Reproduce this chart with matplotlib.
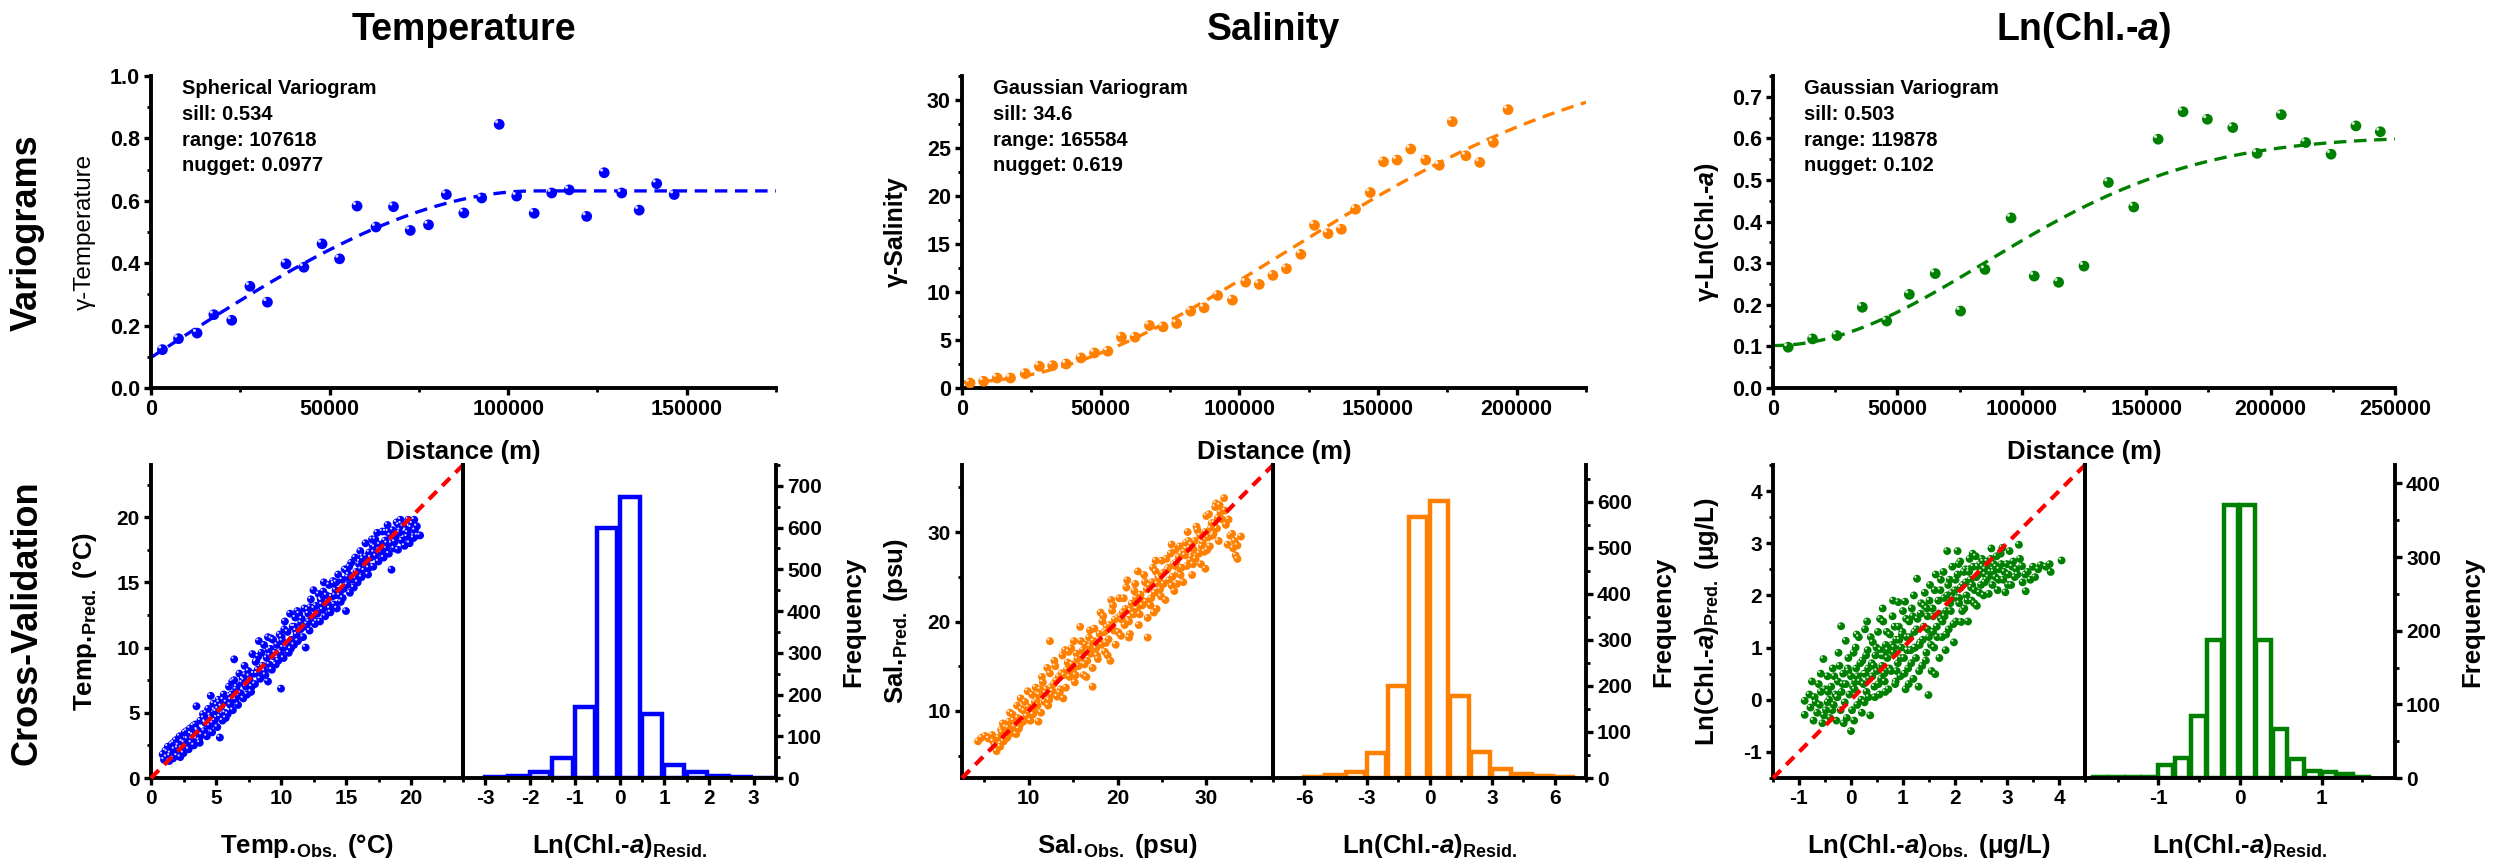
import numpy as np
import matplotlib
matplotlib.use("Agg")
import matplotlib.pyplot as plt
from matplotlib import font_manager
from matplotlib.transforms import ScaledTranslation
from matplotlib.ticker import MultipleLocator, FuncFormatter

# ---------------- fonts ----------------
_names = {f.name for f in font_manager.fontManager.ttflist}
BASE = "Liberation Sans" if "Liberation Sans" in _names else "DejaVu Sans"
NARROW = "Liberation Sans Narrow" if "Liberation Sans Narrow" in _names else BASE
plt.rcParams["font.family"] = BASE
plt.rcParams["font.weight"] = "bold"
plt.rcParams["axes.labelweight"] = "bold"
plt.rcParams["mathtext.fontset"] = "custom"
plt.rcParams["mathtext.rm"] = BASE + ":bold"
plt.rcParams["mathtext.it"] = BASE + ":italic:bold"
plt.rcParams["mathtext.bf"] = BASE + ":bold"
plt.rcParams["lines.scale_dashes"] = False

# ---------------- data: variograms ----------------
temp_lag = [3200, 7700, 12900, 17600, 22600, 27700, 32600, 37800, 42800, 47900,
            52800, 57700, 63000, 67900, 72600, 77700, 82700, 87600, 92600, 97500,
            102400, 107300, 112200, 117100, 122000, 126900, 131800, 136700, 141600, 146500]
temp_gamma = [0.123, 0.158, 0.176, 0.235, 0.217, 0.326, 0.275, 0.398, 0.387, 0.462,
              0.414, 0.583, 0.516, 0.581, 0.505, 0.523, 0.620, 0.561, 0.609, 0.845,
              0.615, 0.560, 0.625, 0.635, 0.550, 0.690, 0.625, 0.570, 0.655, 0.620]
temp_model = dict(kind="Spherical", sill=0.534, rng=107618, nugget=0.0977)

sal_lag = [2900, 7800, 12700, 17500, 22800, 27900, 32700, 37600, 42900, 47800,
           52600, 57500, 62400, 67600, 72500, 77400, 82500, 87300, 92200, 97500,
           102300, 107200, 112100, 117000, 122200, 127100, 132000, 136800, 141900, 147200,
           152000, 156900, 161800, 167200, 172100, 176800, 181700, 186700, 191600, 196900]
sal_gamma = [0.52, 0.70, 1.04, 1.04, 1.50, 2.26, 2.33, 2.50, 3.13, 3.65,
             3.83, 5.29, 5.29, 6.51, 6.37, 6.72, 8.00, 8.35, 9.64, 9.15,
             11.03, 10.79, 11.73, 12.43, 13.92, 16.95, 16.08, 16.53, 18.62, 20.36,
             23.56, 23.74, 24.89, 23.74, 23.20, 27.74, 24.19, 23.50, 25.58, 28.99]
sal_model = dict(kind="Gaussian", sill=34.6, rng=165584, nugget=0.619)

chl_lag = [6100, 15900, 25700, 35900, 45700, 54800, 65200, 75400, 85200, 95700,
           105000, 114800, 125000, 134800, 145000, 154800, 164800, 174600, 184800, 194600,
           204300, 214100, 224300, 234300, 244100]
chl_gamma = [0.098, 0.118, 0.126, 0.194, 0.161, 0.225, 0.275, 0.185, 0.285, 0.409,
             0.269, 0.254, 0.293, 0.494, 0.435, 0.598, 0.664, 0.646, 0.626, 0.564,
             0.657, 0.590, 0.562, 0.630, 0.616]
chl_model = dict(kind="Gaussian", sill=0.503, rng=119878, nugget=0.102)

# ---------------- data: cross-validation scatter ----------------
temp_obs = [0.9, 1.0, 1.1, 1.2, 1.3, 1.4, 1.5, 1.6, 1.7, 1.8, 1.9, 2.0, 2.1, 2.2, 2.3, 2.4, 2.5, 2.6, 2.7, 2.8,
            2.9, 3.0, 3.1, 3.2, 3.3, 3.4, 3.5, 3.5, 3.6, 3.7, 3.8, 3.9, 4.0, 4.1, 4.2, 4.3, 4.4, 4.5, 4.6, 4.6,
            4.7, 4.8, 4.9, 5.0, 5.1, 5.2, 5.3, 5.3, 5.4, 5.5, 5.6, 5.7, 5.8, 5.9, 6.0, 6.1, 6.2, 6.3, 6.4, 6.4,
            6.5, 6.6, 6.7, 6.8, 6.9, 7.0, 7.1, 7.2, 7.3, 7.4, 7.5, 7.6, 7.7, 7.8, 7.9, 8.0, 8.1, 8.2, 8.3, 8.4,
            8.5, 8.6, 8.7, 8.8, 8.9, 9.0, 9.0, 9.1, 9.2, 9.3, 9.4, 9.5, 9.6, 9.7, 9.8, 9.9, 10.0, 10.0, 10.1, 10.2,
            10.3, 10.4, 10.5, 10.6, 10.7, 10.8, 10.9, 11.0, 11.1, 11.2, 11.3, 11.4, 11.5, 11.6, 11.7, 11.8, 11.9, 12.0, 12.1, 12.2,
            12.3, 12.4, 12.5, 12.6, 12.7, 12.8, 12.9, 13.0, 13.1, 13.2, 13.3, 13.4, 13.5, 13.6, 13.7, 13.8, 13.9, 14.0, 14.1, 14.2,
            14.3, 14.4, 14.5, 14.6, 14.7, 14.8, 14.9, 15.0, 15.1, 15.2, 15.3, 15.4, 15.5, 15.6, 15.7, 15.8, 15.9, 16.0, 16.1, 16.2,
            16.3, 16.4, 16.5, 16.6, 16.7, 16.8, 16.9, 17.0, 17.1, 17.2, 17.3, 17.4, 17.5, 17.6, 17.7, 17.8, 17.9, 18.0, 18.1, 18.2,
            18.3, 18.4, 18.5, 18.5, 18.6, 18.7, 18.8, 18.9, 19.0, 19.1, 19.2, 19.3, 19.4, 19.5, 19.6, 19.7, 19.8, 19.9, 20.0, 20.1,
            20.2, 20.3, 20.5, 20.7,
            2.05, 3.05, 4.05, 5.05, 6.05, 7.05, 8.05, 9.05, 10.05, 11.05, 12.05, 13.05, 14.05, 15.05, 16.05, 17.05, 18.05, 19.05,
            2.55, 3.55, 4.55, 5.55, 6.55, 7.55, 8.55, 9.55, 10.55, 11.55, 12.55, 13.55, 14.55, 15.55, 16.55, 17.55, 18.55, 19.55,
            1.25, 1.75, 2.25, 2.75, 3.25, 3.75, 4.25, 4.75, 5.25, 5.75, 6.25, 6.75, 7.25, 7.75, 8.25, 8.75, 9.25, 9.75, 10.25, 10.75,
            11.25, 11.75, 12.25, 12.75, 13.25, 13.75, 14.25, 14.75, 15.25, 15.75, 16.25, 16.75, 17.25, 17.75, 18.25, 18.75, 19.25, 19.75,
            20.25, 20.45,
            1.45, 2.35, 3.15, 4.15, 5.15, 6.15, 7.15, 8.15, 9.15, 10.15, 11.15, 12.15, 13.15, 14.15, 15.15, 16.15, 17.15, 18.15, 19.15]
temp_pred = [1.8, 1.4, 2.1, 1.6, 2.4, 1.3, 1.9, 2.6, 1.5, 2.2, 2.9, 1.7, 2.5, 3.2, 2.0, 2.8, 1.9, 3.5, 2.4, 3.0,
             2.2, 3.8, 2.7, 3.3, 2.5, 4.1, 3.0, 5.5, 3.6, 2.9, 4.4, 3.3, 4.9, 3.6, 4.2, 3.2, 5.3, 4.0, 6.3, 4.6,
             3.5, 5.7, 4.4, 5.1, 3.9, 6.0, 3.1, 4.7, 5.5, 4.4, 6.4, 5.0, 5.8, 4.9, 7.0, 5.6, 6.4, 5.2, 9.1, 7.5,
             6.0, 7.0, 5.6, 8.0, 6.5, 7.3, 6.1, 8.6, 7.0, 6.4, 8.2, 7.5, 6.6, 9.5, 8.0, 7.2, 9.0, 8.3, 10.5, 7.6,
             9.6, 8.6, 10.2, 7.9, 9.2, 7.4, 10.8, 8.7, 9.9, 8.3, 10.6, 9.3, 8.7, 10.2, 9.0, 11.0, 6.85, 9.6, 10.5, 9.2,
             12.0, 10.0, 11.2, 9.6, 12.6, 10.6, 11.6, 10.2, 12.3, 11.0, 10.5, 12.6, 11.4, 12.2, 10.8, 13.0, 10.0, 11.8, 12.6, 11.3,
             13.7, 12.2, 14.4, 11.8, 13.2, 12.6, 14.1, 12.0, 13.6, 12.9, 15.0, 12.4, 14.0, 13.3, 14.8, 12.7, 13.9, 15.1, 13.3, 14.4,
             13.0, 15.6, 14.0, 13.5, 15.2, 14.5, 16.0, 12.8, 14.8, 15.6, 14.2, 16.5, 15.2, 14.6, 16.9, 15.8, 15.0, 16.4, 17.4, 15.4,
             16.8, 15.9, 18.0, 16.4, 15.6, 17.3, 16.9, 18.3, 16.2, 17.7, 17.0, 18.8, 16.6, 17.9, 17.3, 18.9, 16.9, 18.2, 17.6, 19.4,
             17.2, 18.6, 15.97, 18.0, 19.0, 17.6, 18.5, 19.6, 17.5, 18.8, 19.8, 18.2, 19.3, 17.8, 19.0, 18.5, 19.8, 18.0, 19.2, 19.5,
             18.4, 19.0, 18.6, 18.6,
             2.3, 3.4, 4.6, 5.6, 6.3, 7.6, 8.9, 9.8, 10.8, 11.6, 12.9, 13.7, 14.9, 15.9, 16.6, 17.8, 18.9, 19.4,
             2.7, 3.7, 4.8, 6.0, 6.8, 7.8, 8.2, 9.6, 10.2, 11.9, 13.0, 13.4, 14.3, 15.4, 17.0, 17.5, 18.2, 18.9,
             2.0, 2.7, 1.6, 3.6, 4.0, 2.7, 5.0, 4.2, 5.8, 4.6, 7.4, 6.3, 7.9, 7.0, 9.3, 8.2, 10.7, 9.2, 11.4, 9.9,
             12.8, 11.6, 13.1, 12.0, 14.3, 13.0, 15.0, 13.8, 16.2, 15.3, 17.0, 16.1, 18.3, 17.4, 18.9, 18.1, 19.5, 18.8,
             19.8, 19.3,
             1.7, 2.3, 3.0, 4.3, 5.3, 6.0, 7.5, 8.0, 9.4, 10.0, 11.3, 12.0, 13.3, 14.0, 15.4, 16.0, 17.3, 18.0, 19.0]

sal_obs = [4.3, 4.7, 5.1, 5.5, 5.9, 6.2, 6.4, 6.6, 6.8, 7.0, 7.2, 7.4, 7.6, 7.8, 8.0, 8.2, 8.4, 8.6, 8.8, 9.0,
           9.2, 9.4, 9.6, 9.8, 10.0, 10.2, 10.4, 10.6, 10.8, 11.0, 11.2, 11.4, 11.6, 11.8, 12.0, 12.2, 12.4, 12.4, 12.6, 12.8,
           13.0, 13.2, 13.4, 13.6, 13.8, 14.0, 14.2, 14.4, 14.6, 14.8, 15.0, 15.2, 15.4, 15.6, 15.8, 16.0, 16.2, 16.4, 16.6, 16.8,
           17.0, 17.2, 17.2, 17.4, 17.6, 17.8, 18.0, 18.2, 18.4, 18.6, 18.8, 19.0, 19.2, 19.4, 19.6, 19.8, 20.0, 20.2, 20.4, 20.6,
           20.8, 21.0, 21.2, 21.4, 21.6, 21.8, 22.0, 22.2, 22.4, 22.6, 22.8, 23.0, 23.2, 23.4, 23.4, 23.6, 23.8, 24.0, 24.2, 24.4,
           24.6, 24.8, 25.0, 25.2, 25.4, 25.6, 25.8, 26.0, 26.2, 26.4, 26.6, 26.8, 27.0, 27.2, 27.4, 27.6, 27.8, 28.0, 28.2, 28.4,
           28.6, 28.8, 29.0, 29.2, 29.4, 29.6, 29.8, 29.9, 30.0, 30.2, 30.4, 30.6, 30.8, 31.0, 31.1, 31.2, 31.4, 31.6, 31.8, 32.0,
           32.2, 32.4, 32.5, 32.7, 33.0, 33.2, 33.3, 33.5, 33.5, 33.9,
           8.3, 8.9, 9.5, 10.1, 10.7, 11.3, 11.9, 12.5, 13.1, 13.7, 14.3, 14.9, 15.5, 16.1, 16.7, 17.3, 17.9, 18.5, 19.1, 19.7,
           20.3, 20.9, 21.5, 22.1, 22.7, 23.3, 23.9, 24.5, 25.1, 25.7, 26.3, 26.9, 27.5, 28.1, 28.7, 29.3, 29.9, 30.5, 31.3,
           9.1, 12.1, 14.1, 15.1, 18.1, 19.3, 21.1, 22.3, 24.3, 26.1, 27.9,
           11.1, 13.9, 16.5, 18.9, 21.3, 24.1, 26.7, 28.5, 30.1,
           7.1, 7.9, 8.7, 9.3, 9.9, 10.5, 11.5, 12.3, 12.9, 13.5, 14.5, 15.3, 15.9, 16.3, 16.9, 17.7, 18.3, 18.7, 19.5, 20.1,
           20.7, 21.3, 21.9, 22.5, 23.1, 23.7, 24.3, 24.9, 25.5, 26.1, 26.5, 27.1, 27.7, 28.3, 28.9, 29.5, 30.3, 30.7, 31.5, 32.1,
           32.9, 10.9, 12.7, 14.7, 16.9, 18.7, 20.5, 22.5, 24.7, 26.5, 28.3, 30.9, 6.0, 6.9, 7.7]
sal_pred = [6.6, 7.0, 7.2, 6.9, 7.3, 6.2, 5.5, 7.0, 6.0, 7.6, 6.6, 8.2, 7.0, 8.8, 7.5, 9.6, 8.2, 7.4, 9.2, 8.4,
            10.2, 8.8, 11.0, 9.4, 10.4, 8.9, 11.8, 10.0, 12.6, 10.6, 11.8, 9.8, 13.2, 11.0, 12.4, 10.6, 17.8, 14.2, 11.8, 13.0,
            15.0, 11.6, 13.8, 12.4, 16.2, 14.0, 12.6, 15.4, 13.8, 17.0, 14.6, 13.2, 16.4, 15.0, 19.4, 16.0, 14.0, 17.4, 15.6, 18.2,
            16.4, 12.7, 14.8, 19.2, 17.0, 15.8, 18.6, 17.4, 20.6, 16.6, 19.4, 18.0, 15.6, 21.2, 19.0, 17.4, 20.4, 22.6, 18.4, 21.0,
            19.6, 23.8, 20.2, 18.6, 22.0, 20.8, 24.2, 21.4, 19.6, 23.0, 21.8, 25.2, 22.2, 18.2, 20.4, 24.0, 22.6, 26.0, 23.2, 21.4,
            25.0, 23.6, 26.8, 24.2, 22.4, 25.8, 24.6, 27.6, 25.0, 23.4, 26.6, 25.4, 28.4, 26.0, 24.4, 27.4, 26.2, 29.0, 26.8, 25.2,
            28.0, 27.0, 30.2, 27.6, 26.4, 28.8, 27.8, 25.9, 31.8, 29.4, 28.4, 31.0, 29.8, 32.8, 33.2, 30.4, 29.0, 32.2, 31.4, 33.8,
            30.8, 28.6, 31.4, 29.6, 28.2, 29.0, 27.4, 27.0, 28.5, 29.5,
            8.9, 8.0, 10.0, 9.8, 11.0, 12.4, 12.0, 12.6, 13.4, 14.2, 14.6, 15.2, 15.8, 16.8, 16.6, 17.8, 18.0, 18.8, 19.6, 20.2,
            20.6, 21.4, 21.2, 22.6, 22.4, 23.6, 24.4, 24.2, 25.4, 26.0, 26.4, 27.2, 27.8, 28.2, 29.0, 29.6, 30.0, 30.4, 31.6,
            11.4, 14.8, 16.8, 17.8, 21.0, 22.4, 24.6, 25.6, 26.8, 28.6, 30.0,
            8.8, 11.4, 13.8, 16.2, 18.2, 21.0, 24.2, 26.4, 28.0,
            8.6, 9.8, 10.6, 9.0, 12.2, 9.6, 13.8, 11.2, 15.6, 12.0, 16.6, 14.0, 17.8, 15.2, 19.0, 16.2, 20.0, 17.6, 21.8, 18.8,
            22.6, 20.0, 23.4, 20.8, 24.4, 21.8, 25.6, 22.8, 27.0, 24.0, 28.0, 25.2, 28.8, 27.2, 30.6, 28.4, 32.0, 29.6, 33.0, 32.4,
            29.8, 11.2, 12.2, 14.4, 17.2, 19.0, 20.2, 22.2, 24.8, 26.2, 28.6, 31.0, 6.6, 7.9, 8.1]

chl_obs = [-0.89, -0.89, -0.80, -0.78, -0.72, -0.70, -0.65, -0.62, -0.60, -0.55, -0.53, -0.50, -0.48, -0.45, -0.42, -0.40,
           -0.38, -0.35, -0.33, -0.30, -0.28, -0.25, -0.22, -0.20, -0.19, -0.18, -0.15, -0.12, -0.10, -0.10, -0.08, -0.05,
           -0.03, 0.00, 0.00, 0.02, 0.05, 0.07, 0.10, 0.12, 0.15, 0.17, 0.20, 0.22, 0.25, 0.27, 0.30, 0.32, 0.35, 0.37,
           0.40, 0.42, 0.45, 0.47, 0.50, 0.52, 0.55, 0.57, 0.60, 0.62, 0.65, 0.67, 0.70, 0.72, 0.75, 0.77, 0.80, 0.82,
           0.85, 0.87, 0.90, 0.91, 0.92, 0.95, 0.97, 1.00, 1.02, 1.04, 1.05, 1.07, 1.10, 1.12, 1.15, 1.17, 1.20, 1.22,
           1.25, 1.27, 1.28, 1.30, 1.32, 1.35, 1.37, 1.40, 1.42, 1.45, 1.47, 1.49, 1.50, 1.52, 1.55, 1.57, 1.60, 1.62,
           1.63, 1.65, 1.68, 1.70, 1.72, 1.75, 1.78, 1.80, 1.82, 1.85, 1.85, 1.88, 1.90, 1.92, 1.95, 1.98, 2.00, 2.02,
           2.05, 2.05, 2.08, 2.10, 2.12, 2.15, 2.18, 2.20, 2.22, 2.25, 2.28, 2.30, 2.32, 2.35, 2.38, 2.40, 2.42, 2.45,
           2.48, 2.50, 2.52, 2.55, 2.58, 2.60, 2.62, 2.65, 2.68, 2.70, 2.72, 2.75, 2.78, 2.80, 2.82, 2.85, 2.88, 2.91,
           2.93, 2.97, 3.00, 3.03, 3.05, 3.08, 3.10, 3.15, 3.20, 3.23, 3.25, 3.29, 3.30, 3.36, 3.40, 3.45, 3.54, 3.60,
           3.65, 3.75, 3.84, 3.82, 4.05,
           -0.58, -0.27, 0.08, 0.33, 0.58, 0.83, 1.08, 1.33, 1.58, 1.83, 2.08, 2.33, 2.58,
           -0.45, -0.05, 0.28, 0.63, 0.98, 1.23, 1.46, 1.73, 1.96, 2.27, 2.53,
           -0.75, -0.68, -0.58, -0.52, -0.44, -0.36, -0.32, -0.26, -0.16, -0.14, -0.06, 0.04, 0.06, 0.09, 0.13, 0.18,
           0.21, 0.24, 0.29, 0.34, 0.38, 0.41, 0.44, 0.49, 0.53, 0.56, 0.59, 0.64, 0.69, 0.71, 0.74, 0.79, 0.84, 0.88,
           0.93, 0.96, 0.99, 1.03, 1.06, 1.09, 1.13, 1.16, 1.19, 1.23, 1.26, 1.31, 1.34, 1.38, 1.41, 1.44, 1.48, 1.51,
           1.54, 1.58, 1.61, 1.66, 1.69, 1.73, 1.76, 1.79, 1.83, 1.87, 1.91, 1.94, 1.97, 2.01, 2.04, 2.07, 2.11, 2.14,
           2.17, 2.21, 2.24, 2.27, 2.31, 2.34, 2.37, 2.41, 2.44, 2.47, 2.51, 2.54, 2.57, 2.61, 2.64, 2.69, 2.74, 2.79,
           2.84, 2.89, 2.95, 3.02, 3.12, 3.18, 3.35, 3.50, 0.26, 0.46, 0.66, 0.86, 1.11, -0.24, 0.11, 0.31, 0.61, 0.81, 1.21]
chl_pred = [-0.02, -0.29, 0.10, -0.15, -0.40, 0.05, -0.25, 0.30, -0.10, -0.45, 0.78, 0.20, -0.20, 0.45, 0.00, -0.35,
            0.25, 0.60, -0.10, 0.10, -0.40, 0.35, 0.65, -0.20, 1.41, 0.15, 0.50, -0.05, 1.13, 0.30, -0.35, 0.80,
            0.10, -0.60, 0.45, -0.20, 0.90, 0.20, 0.60, -0.10, 1.20, 0.35, 0.00, 0.75, 0.50, 1.35, 0.15, 0.95, 0.40, -0.30,
            0.70, 1.10, 0.25, 0.85, 0.55, 1.30, 0.10, 0.95, 0.65, 1.50, 0.35, 1.05, 0.80, 0.20, 1.25, 0.55, 1.60, 0.90,
            0.30, 1.15, 0.70, 1.87, 1.40, 0.45, 1.00, 1.70, 0.80, 1.88, 0.20, 1.20, 0.60, 1.50, 0.95, 1.75, 0.40, 1.30,
            0.80, 2.32, 1.55, 0.25, 1.05, 1.85, 0.65, 1.40, 2.05, 0.90, 1.60, 0.09, 1.20, 2.20, 0.55, 1.75, 1.00, 0.49,
            2.40, 1.40, 1.90, 0.80, 2.10, 1.20, 2.45, 1.60, 0.95, 2.85, 2.00, 1.35, 2.30, 1.70, 2.55, 1.10, 2.10, 1.50,
            2.85, 2.40, 1.85, 2.65, 1.49, 2.20, 1.75, 2.50, 2.00, 1.50, 2.70, 2.30, 1.90, 2.55, 2.10, 2.75, 1.80, 2.40,
            2.60, 2.20, 2.70, 2.00, 2.50, 2.30, 2.65, 2.03, 2.45, 2.90, 2.20, 2.60, 2.35, 2.75, 2.10, 2.50, 2.80, 2.91,
            2.30, 2.06, 2.60, 2.40, 2.85, 2.20, 2.55, 2.35, 2.40, 2.97, 2.70, 2.56, 2.25, 2.08, 2.45, 2.30, 2.35, 2.50,
            2.58, 2.55, 2.45, 2.60, 2.67,
            0.15, 0.05, 0.35, 0.60, 0.40, 1.00, 0.95, 1.10, 1.30, 1.70, 1.95, 2.20, 2.40,
            -0.05, 0.55, 0.50, 0.85, 1.25, 1.00, 1.75, 1.55, 1.95, 2.45, 2.55,
            0.35, -0.05, 0.50, -0.30, 0.15, -0.20, 0.45, 0.05, 0.30, -0.45, 0.60, 0.25, -0.40, 1.00, 0.45, 0.70,
            -0.25, 0.30, 0.85, 0.05, 1.20, 0.45, 0.65, 1.00, 0.30, 1.55, 0.85, 0.50, 1.30, 0.95, 0.60, 1.05, 1.40, 0.55,
            1.15, 0.80, 1.30, 0.50, 1.55, 0.95, 1.20, 0.70, 1.60, 1.00, 1.35, 0.55, 1.65, 1.15, 1.80, 0.75, 1.35, 1.90,
            1.05, 1.60, 2.10, 1.20, 1.65, 2.30, 1.50, 1.95, 1.25, 2.20, 1.85, 2.05, 1.45, 2.30, 1.95, 2.60, 2.15, 1.70,
            2.45, 2.25, 1.90, 2.50, 2.15, 2.80, 1.85, 2.35, 2.55, 2.05, 2.45, 2.65, 2.25, 2.55, 2.35, 2.70, 2.45, 2.55,
            2.30, 2.60, 2.45, 2.20, 2.65, 2.50, 2.40, 2.55, -0.05, 0.05, 0.15, 0.35, 0.30, 0.90, 1.25, 1.50, 1.75, 1.90, 2.00]

# ---------------- data: residual histograms (left bin edge, count) ----------------
temp_bin_left = [-3.0, -2.5, -2.0, -1.5, -1.0, -0.5, 0.0, 0.5, 1.0, 1.5, 2.0, 2.5, 3.0]
temp_counts = [2, 4, 14, 48, 170, 598, 674, 154, 32, 14, 4, 2, 1]
temp_bin_w = 0.5

sal_bin_left = [-6, -5, -4, -3, -2, -1, 0, 1, 2, 3, 4, 5, 6]
sal_counts = [2, 6, 13, 54, 200, 567, 602, 178, 56, 19, 9, 4, 2]
sal_bin_w = 1.0

chl_bin_left = [-1.8, -1.6, -1.4, -1.2, -1.0, -0.8, -0.6, -0.4, -0.2, 0.0, 0.2, 0.4, 0.6, 0.8, 1.0, 1.2, 1.4]
chl_counts = [1, 1, 1, 1, 18, 27, 84, 188, 371, 371, 188, 66, 26, 9, 8, 5, 1]
chl_bin_w = 0.2

# ---------------- text ----------------
col_titles = ["Temperature", "Salinity", "Ln(Chl.-$\\mathit{a}$)"]
row_titles = ["Variograms", "Cross-Validation"]
vario_ylabels = ["γ-Temperature", "γ-Salinity", "γ-Ln(Chl.-$\\mathit{a}$)"]
obs_labels = ["Temp.$_{\\mathrm{Obs.}}$ (°C)", "Sal.$_{\\mathrm{Obs.}}$ (psu)",
              "Ln(Chl.-$\\mathit{a}$)$_{\\mathrm{Obs.}}$ (μg/L)"]
pred_labels = ["Temp.$_{\\mathrm{Pred.}}$ (°C)", "Sal.$_{\\mathrm{Pred.}}$ (psu)",
               "Ln(Chl.-$\\mathit{a}$)$_{\\mathrm{Pred.}}$ (μg/L)"]
resid_label = "Ln(Chl.-$\\mathit{a}$)$_{\\mathrm{Resid.}}$"

# ---------------- figure ----------------
W, H = 2494, 866
fig = plt.figure(figsize=(W / 100, H / 100), dpi=100)

colors = ["#0000FF", "#FF8000", "#008000"]
cols_px = [(151, 463, 776), (962, 1273, 1586), (1773, 2085, 2395)]
top_row = (76, 388)
bot_row = (465, 778)


def rect(x0, x1, y0, y1):
    return [x0 / W, 1 - y1 / H, (x1 - x0) / W, (y1 - y0) / H]


def model_curve(m, h):
    r = np.asarray(h, float) / m["rng"]
    if m["kind"] == "Spherical":
        f = np.where(r < 1, 1.5 * r - 0.5 * r ** 3, 1.0)
    else:
        f = 1 - np.exp(-r ** 2)
    return m["nugget"] + m["sill"] * f


def style_axes(ax, fs, family, spines=("left", "bottom")):
    for k, sp in ax.spines.items():
        sp.set_visible(k in spines)
        sp.set_linewidth(2.8)
    ax.tick_params(which="major", direction="out", length=5, width=2.4,
                   labelsize=fs, pad=3, labelfontfamily=family)
    ax.tick_params(which="minor", direction="out", length=3, width=2.0)


def sphere_scatter(ax, x, y, color, s, hs, off):
    ax.scatter(x, y, s=s, c=color, edgecolors="none", zorder=3)
    tr = ax.transData + ScaledTranslation(-off / 72, off / 72, fig.dpi_scale_trans)
    ax.scatter(x, y, s=hs, c="white", edgecolors="none", zorder=4,
               transform=tr, alpha=0.85)


vario_data = [(temp_lag, temp_gamma, temp_model), (sal_lag, sal_gamma, sal_model),
              (chl_lag, chl_gamma, chl_model)]
vario_xlim = [175000, 225000, 250000]
vario_ylim = [1.0, 32.5, 0.75]
vario_yticks = [(0.2, 0.1), (5, 2.5), (0.1, 0.05)]
vario_fmt = ["{:.1f}", "{:.0f}", "{:.1f}"]
vario_fonts = [BASE, NARROW, NARROW]

cv_data = [(temp_obs, temp_pred), (sal_obs, sal_pred), (chl_obs, chl_pred)]
cv_lim = [(0, 24), (2.5, 37.5), (-1.5, 4.5)]
cv_ticks = [(5, 2.5), (10, 5), (1, 0.5)]

hist_data = [(temp_bin_left, temp_counts, temp_bin_w), (sal_bin_left, sal_counts, sal_bin_w),
             (chl_bin_left, chl_counts, chl_bin_w)]
hist_xlim = [(-3.5, 3.5), (-7.5, 7.5), (-1.9, 1.9)]
hist_ylim = [750, 680, 425]
hist_xt = [(1, 0.5), (3, 1.5), (1, 0.5)]
hist_yt = [(100, 50), (100, 50), (100, 50)]

gfmt = FuncFormatter(lambda v, p: "{:g}".format(round(v, 6)))

for i in range(3):
    L, M, R = cols_px[i]
    c = colors[i]
    fam = vario_fonts[i]

    # ---- variogram ----
    ax = fig.add_axes(rect(L, R, *top_row))
    lag, gam, mdl = vario_data[i]
    hh = np.linspace(0, vario_xlim[i], 400)
    ax.plot(hh, model_curve(mdl, hh), color=c, lw=2.4, dashes=(9, 5.5), zorder=2)
    sphere_scatter(ax, lag, gam, c, 60, 5, 1.9)
    ax.set_xlim(0, vario_xlim[i])
    ax.set_ylim(0, vario_ylim[i])
    ax.xaxis.set_major_locator(MultipleLocator(50000))
    ax.xaxis.set_minor_locator(MultipleLocator(25000))
    ax.yaxis.set_major_locator(MultipleLocator(vario_yticks[i][0]))
    ax.yaxis.set_minor_locator(MultipleLocator(vario_yticks[i][1]))
    fmt = vario_fmt[i]
    ax.yaxis.set_major_formatter(FuncFormatter(lambda v, p, f=fmt: f.format(v)))
    ax.xaxis.set_major_formatter(FuncFormatter(lambda v, p: "{:.0f}".format(v)))
    style_axes(ax, 15.5, fam)
    ax.set_xlabel("Distance (m)", fontsize=18.5, fontweight="bold", family=BASE)
    ax.xaxis.set_label_coords(0.5, -64 / 312)
    ax.xaxis.label.set_va("center")
    ax.set_ylabel(vario_ylabels[i], fontsize=18 if i else 17.5,
                  fontweight="normal" if i == 0 else "bold", family=fam)
    ax.yaxis.set_label_coords(-66 / (R - L), 0.5)
    ax.yaxis.label.set_va("center")
    txt = "{} Variogram\nsill: {}\nrange: {}\nnugget: {}".format(
        mdl["kind"], mdl["sill"], mdl["rng"], mdl["nugget"])
    ax.text(31 / (R - L), 0.99, txt, transform=ax.transAxes, ha="left", va="top",
            fontsize=14.5, fontweight="bold", family=fam, linespacing=1.45)

    # column title
    fig.text((L + R) / 2 / W, 1 - 40 / H, col_titles[i], ha="center", va="baseline",
             fontsize=27, fontweight="bold", family=fam)

    # ---- cross-validation scatter ----
    ax2 = fig.add_axes(rect(L, M, *bot_row))
    lo, hi = cv_lim[i]
    obs, pred = cv_data[i]
    sphere_scatter(ax2, obs, pred, c, 32, 2.4, 1.2)
    ax2.plot([lo, hi], [lo, hi], color="#FF0000", lw=3.0, dashes=(8, 5.5), zorder=5,
             clip_on=False)
    ax2.set_xlim(lo, hi)
    ax2.set_ylim(lo, hi)
    for axis in (ax2.xaxis, ax2.yaxis):
        axis.set_major_locator(MultipleLocator(cv_ticks[i][0]))
        axis.set_minor_locator(MultipleLocator(cv_ticks[i][1]))
        axis.set_major_formatter(gfmt)
    style_axes(ax2, 15, BASE, spines=("left", "bottom", "right"))
    ax2.tick_params(right=False, which="both")
    ax2.set_xlabel(obs_labels[i], fontsize=18.5)
    ax2.xaxis.set_label_coords(0.5, -68 / 313)
    ax2.xaxis.label.set_va("center")
    ax2.set_ylabel(pred_labels[i], fontsize=18.5)
    ax2.yaxis.set_label_coords(-66 / (M - L), 0.5)
    ax2.yaxis.label.set_va("center")

    # ---- residual histogram ----
    ax3 = fig.add_axes(rect(M, R, *bot_row))
    ax3.patch.set_visible(False)
    left, cnt, bw = hist_data[i]
    ax3.bar(left, cnt, width=bw * 0.9, align="edge", color="white", edgecolor=c,
            linewidth=3.2, zorder=2)
    ax3.set_xlim(*hist_xlim[i])
    ax3.set_ylim(0, hist_ylim[i])
    ax3.xaxis.set_major_locator(MultipleLocator(hist_xt[i][0]))
    ax3.xaxis.set_minor_locator(MultipleLocator(hist_xt[i][1]))
    ax3.yaxis.set_major_locator(MultipleLocator(hist_yt[i][0]))
    ax3.yaxis.set_minor_locator(MultipleLocator(hist_yt[i][1]))
    ax3.xaxis.set_major_formatter(gfmt)
    style_axes(ax3, 15, BASE, spines=("bottom", "right", "left"))
    ax3.yaxis.tick_right()
    ax3.yaxis.set_label_position("right")
    ax3.set_xlabel(resid_label, fontsize=18.5)
    ax3.xaxis.set_label_coords(0.5, -68 / 313)
    ax3.xaxis.label.set_va("center")
    ax3.set_ylabel("Frequency", fontsize=18.5, rotation=90)
    ax3.yaxis.set_label_coords(1 + 77 / (R - M), 0.5)
    ax3.yaxis.label.set_va("center")

# row titles
fig.text(27 / W, 1 - 233 / H, row_titles[0], rotation=90, ha="center", va="center",
         fontsize=26, fontweight="bold")
fig.text(27 / W, 1 - 623 / H, row_titles[1], rotation=90, ha="center", va="center",
         fontsize=26, fontweight="bold")

fig.savefig("out.png", dpi=100, facecolor="white")
